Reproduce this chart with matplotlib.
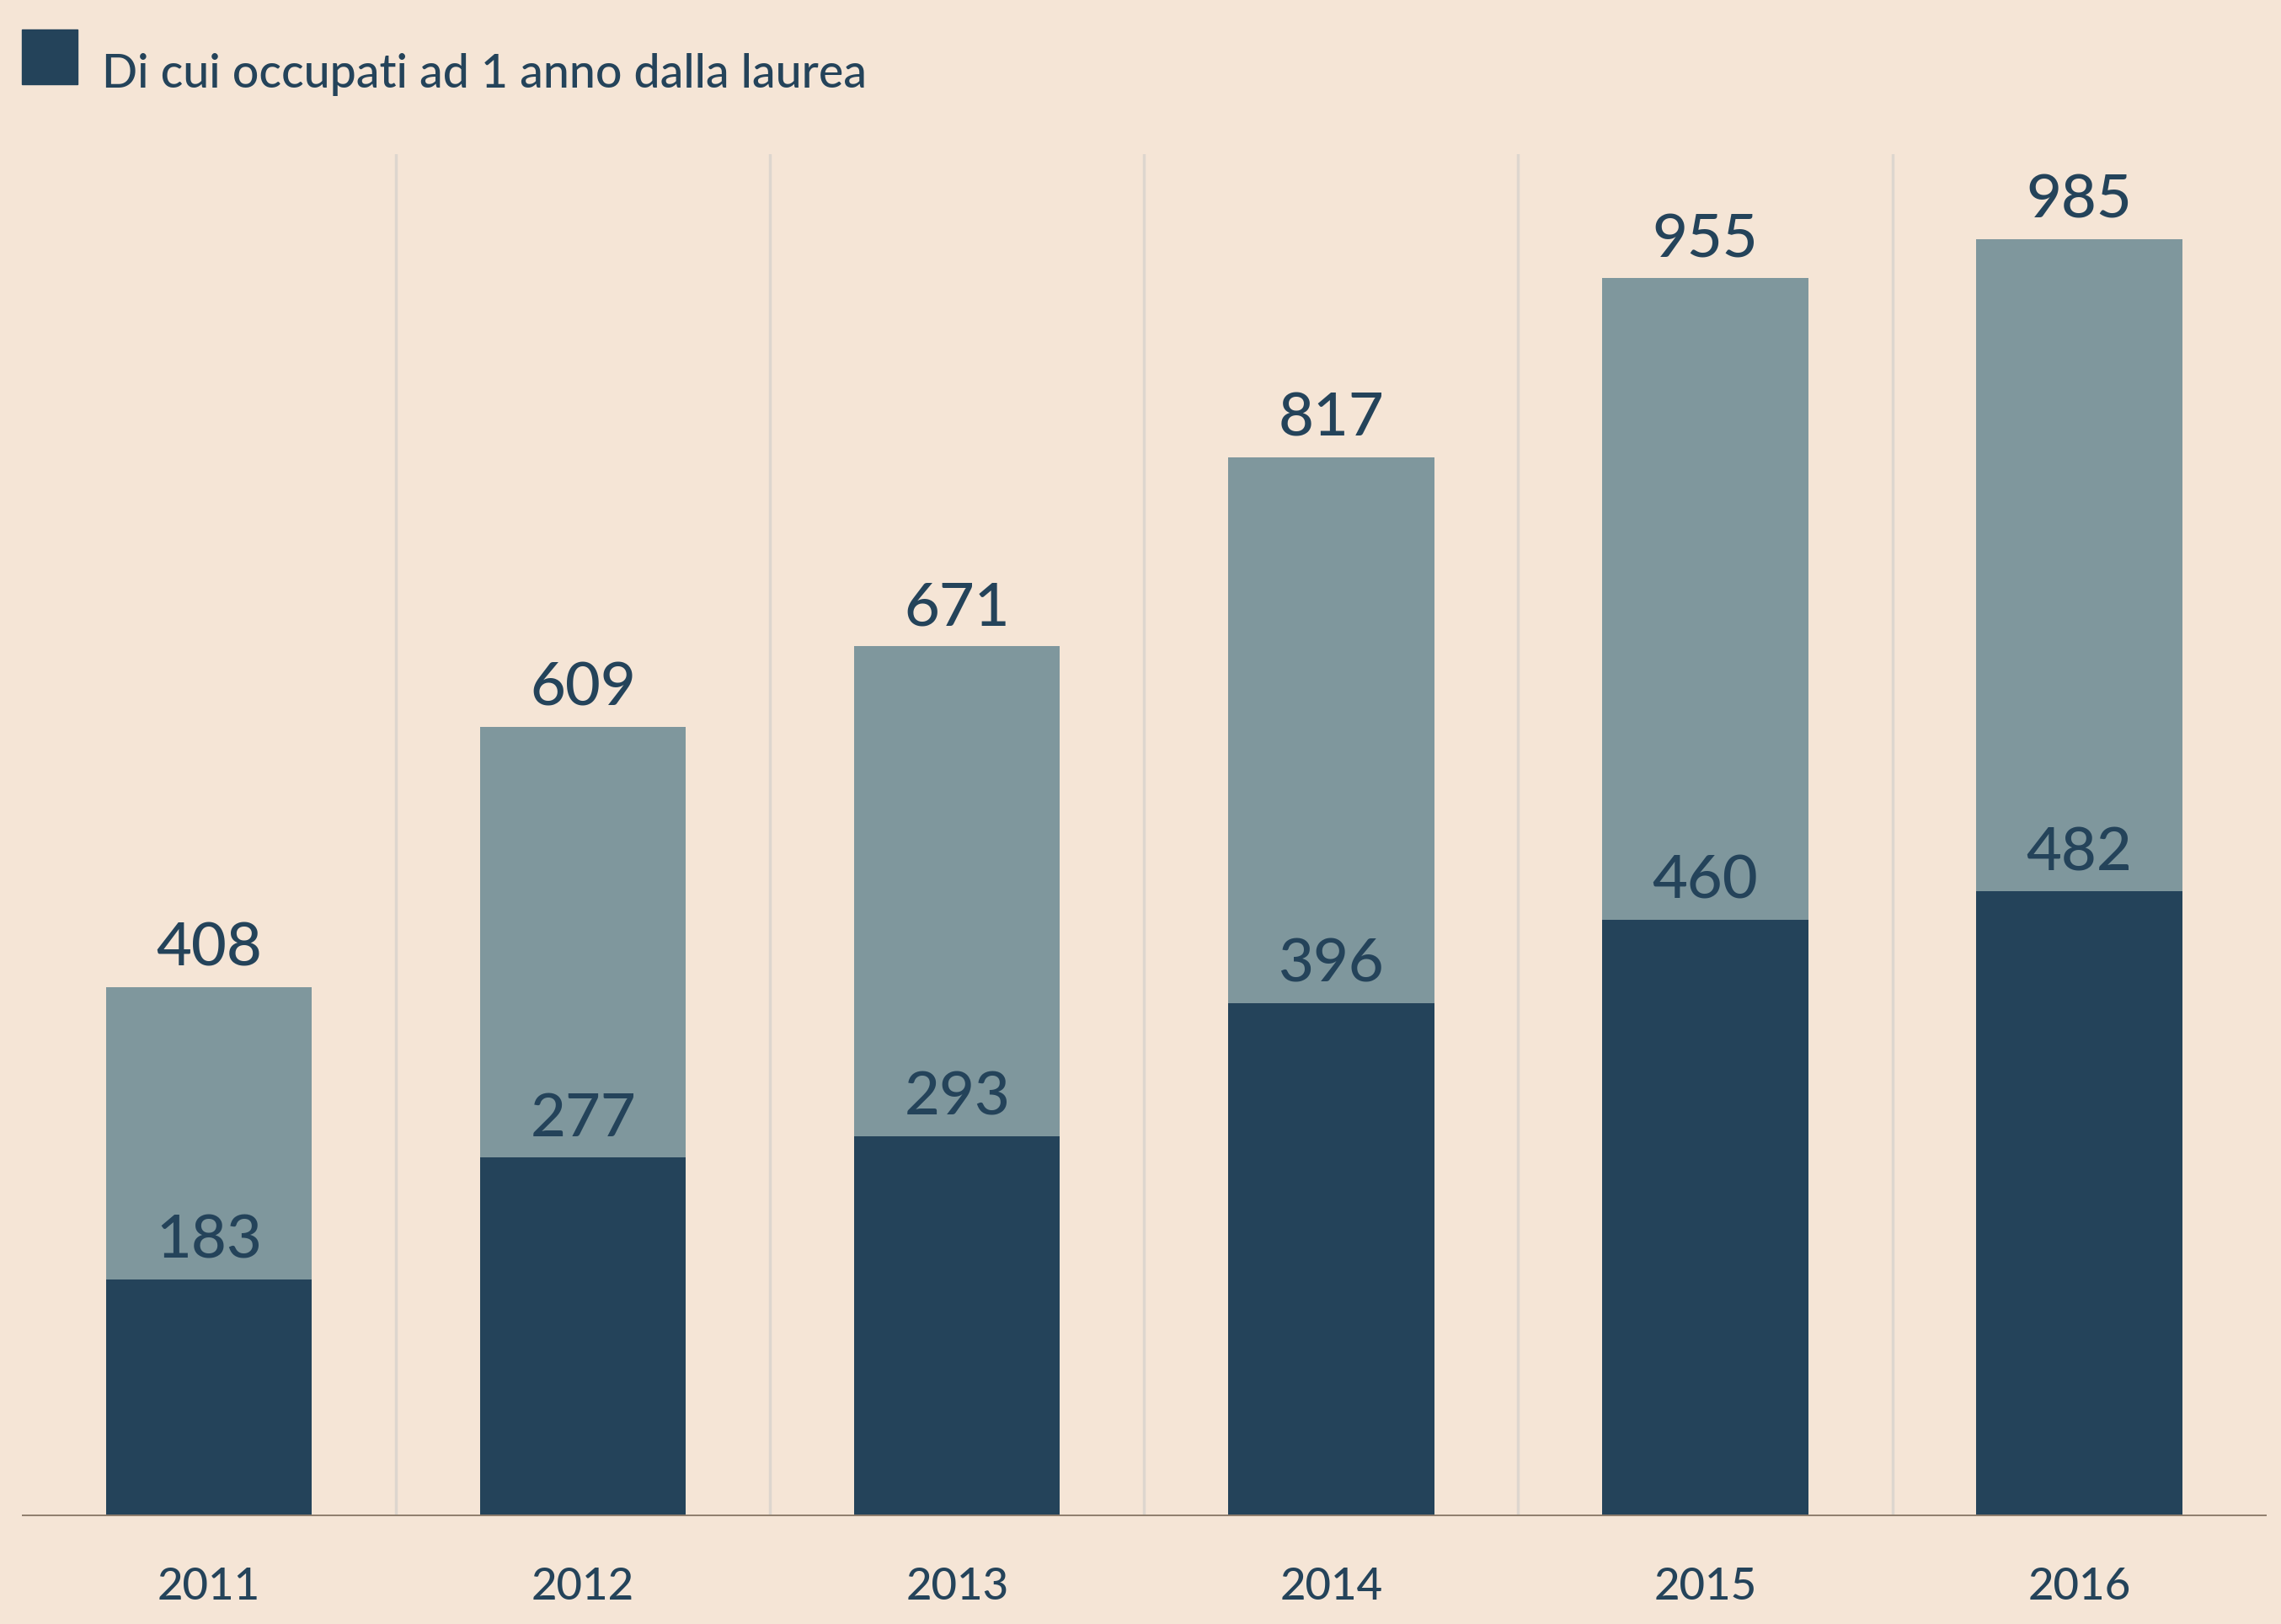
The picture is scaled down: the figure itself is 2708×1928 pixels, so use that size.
import matplotlib.pyplot as plt
from matplotlib.patches import Rectangle

# data
years = ["2011", "2012", "2013", "2014", "2015", "2016"]
laureati = [408, 609, 671, 817, 955, 985]      # totale
occupati = [183, 277, 293, 396, 460, 482]      # di cui occupati ad 1 anno

bg = "#f5e5d6"
dark = "#24435a"
light = "#7f979d"

plt.rcParams["font.family"] = ["Lato", "DejaVu Sans"]

fig = plt.figure(figsize=(27.08, 19.28), dpi=100, facecolor=bg)
ax = fig.add_axes([0.0096, 0.0663, 0.984, 0.839])
ax.set_facecolor(bg)

x = range(len(years))
ax.bar(x, laureati, width=0.55, color=light, zorder=2)
ax.bar(x, occupati, width=0.55, color=dark, zorder=3)

# separators between years
for i in range(len(years) - 1):
    ax.axvline(i + 0.5, color="#ddd6ce", lw=2.5, zorder=1)
ax.axhline(0, color="#8f7e6d", lw=2.8, zorder=4)

# value labels
for i in x:
    ax.text(i, laureati[i] + 8, str(laureati[i]), ha="center", va="bottom",
            fontsize=52, fontweight="medium", color=dark, zorder=5)
    ax.text(i, occupati[i] + 8, str(occupati[i]), ha="center", va="bottom",
            fontsize=52, fontweight="medium", color=dark, zorder=5)

ax.set_xlim(-0.5, 5.5)
ax.set_ylim(0, 1051)
ax.set_xticks(list(x))
ax.set_xticklabels(years, fontsize=38, fontweight="medium", color=dark)
ax.tick_params(axis="x", length=0, pad=44)
ax.set_yticks([])
for s in ax.spines.values():
    s.set_visible(False)

# legend
fig.add_artist(Rectangle((0.0096, 0.948), 0.0243, 0.034, transform=fig.transFigure,
                         color=dark))
fig.text(0.0446, 0.954, "Di cui occupati ad 1 anno dalla laurea", fontsize=40,
         fontweight="medium", color=dark, va="center", ha="left")

fig.savefig("out.png", facecolor=bg)
